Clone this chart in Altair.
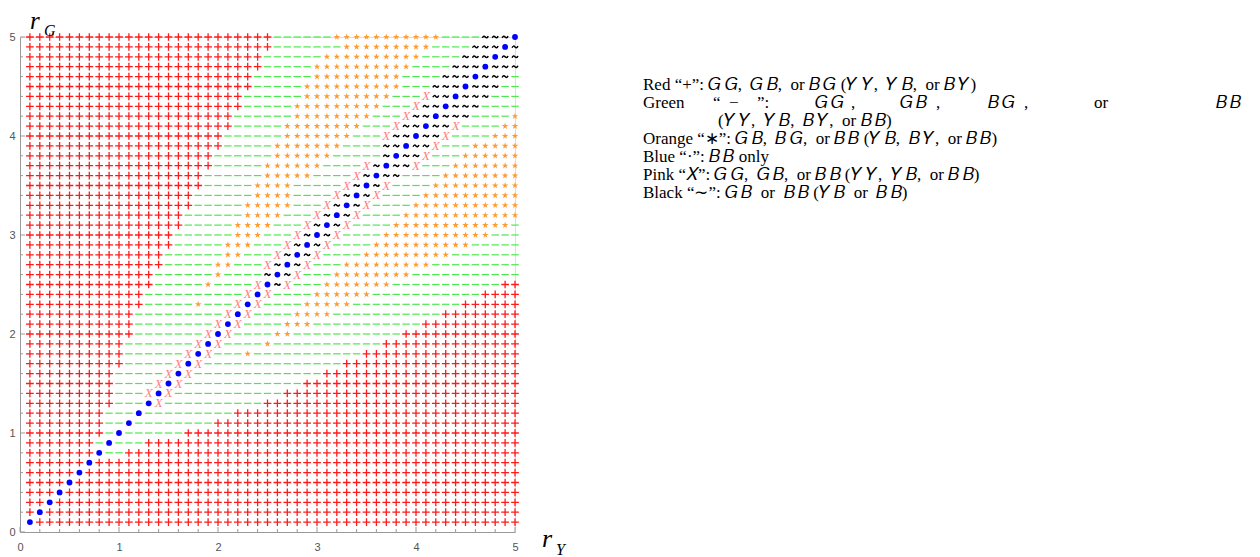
import altair as alt
import pandas as pd

# Each row: run-length codes, left (r_Y=0.1) to right (r_Y=5.0); rows from r_G=5.0 down to 0.1
# + red plus, - green dash, * orange star, o blue dot, x pink X, ~ black tilde
ROWS = [
    "+25 -6 *11 -4 ~3 o1",
    "+25 -7 *9 -4 ~3 o1 ~1",
    "+24 -6 *10 -4 ~3 o1 ~2",
    "+24 -5 *10 -4 ~3 o1 ~3",
    "+23 -6 *9 -4 ~3 o1 ~3 -1",
    "+23 -5 *10 -3 ~3 o1 ~3 -2",
    "+22 -6 *9 -3 x1 ~2 o1 ~3 -3",
    "+22 -5 *9 -3 x1 ~2 o1 ~3 -4",
    "+21 -6 *8 -3 x1 ~2 o1 ~3 -4 *1",
    "+21 -5 *8 -3 x1 ~2 o1 ~2 x1 -4 *2",
    "+20 -6 *7 -3 x1 ~2 o1 ~2 x1 -4 *3",
    "+20 -5 *7 -4 ~2 o1 ~2 x1 -3 *5",
    "+19 -6 *6 -5 ~1 o1 ~2 x1 -3 *6",
    "+19 -5 *6 -4 x1 ~1 o1 ~2 x1 -3 *7",
    "+18 -6 *5 -4 x1 ~1 o1 ~2 -4 *8",
    "+18 -5 *4 -5 x1 ~1 o1 ~1 x1 -4 *9",
    "+17 -6 *4 -4 x1 ~1 o1 ~1 x1 -4 *10",
    "+17 -5 *5 -3 x1 ~1 o1 ~1 x1 -4 *11",
    "+16 -6 *4 -3 x1 ~1 o1 ~1 x1 -4 *12",
    "+16 -5 *4 -3 x1 ~1 o1 ~1 x1 -4 *12 -1",
    "+15 -6 *3 -3 x1 ~1 o1 ~1 x1 -4 *11 -3",
    "+15 -5 *3 -3 x1 ~1 o1 ~1 x1 -4 *10 -5",
    "+14 -6 *2 -3 x1 ~1 o1 ~1 x1 -4 *9 -7",
    "+14 -5 *2 -3 x1 ~1 o1 ~1 x1 -3 *9 -9",
    "+13 -6 *1 -4 ~1 o1 ~1 x1 -3 *8 -11",
    "+13 -5 *1 -4 x1 o1 ~1 x1 -3 *7 -11 +2",
    "+12 -10 x1 o1 x1 -4 *6 -11 +4",
    "+12 -5 *1 -3 x1 o1 x1 -4 *5 -11 +6",
    "+11 -9 x1 o1 x1 -4 *4 -11 +8",
    "+11 -8 x1 o1 x1 -4 *3 -11 +10",
    "+11 -7 x1 o1 x1 -4 *2 -11 +12",
    "+10 -7 x1 o1 x1 -4 *1 -11 +14",
    "+10 -6 x1 o1 x1 -3 *1 -11 +16",
    "+10 -5 x1 o1 x1 -14 +18",
    "+9 -5 x1 o1 x1 -13 +20",
    "+9 -4 x1 o1 x1 -12 +22",
    "+9 -3 x1 o1 x1 -11 +24",
    "+9 -3 o1 x1 -10 +26",
    "+8 -3 o1 -9 +29",
    "+8 -2 o1 -8 +31",
    "+8 -1 o1 -6 +34",
    "+7 -1 o1 -3 +38",
    "+7 o1 -2 +40",
    "+6 o1 +43",
    "+5 o1 +44",
    "+4 o1 +45",
    "+3 o1 +46",
    "+2 o1 +47",
    "+1 o1 +48",
    "o1 +49",
]

AXIS_LABELS = [0, 1, 2, 3, 4, 5]
MINOR_TICKS = [0.2, 0.4, 0.6, 0.8, 1.2, 1.4, 1.6, 1.8, 2.2, 2.4, 2.6, 2.8,
               3.2, 3.4, 3.6, 3.8, 4.2, 4.4, 4.6, 4.8]

LEGEND_LINES = [
    "Red “+”: 𝐺𝐺, 𝐺𝐵, or 𝐵𝐺 (𝑌𝑌, 𝑌𝐵, or 𝐵𝑌)",
    None,
    "(𝑌𝑌, 𝑌𝐵, 𝐵𝑌, or 𝐵𝐵)",
    "Orange “∗”: 𝐺𝐵, 𝐵𝐺, or 𝐵𝐵 (𝑌𝐵, 𝐵𝑌, or 𝐵𝐵)",
    "Blue “·”: 𝐵𝐵 only",
    "Pink “𝑋”: 𝐺𝐺, 𝐺𝐵, or 𝐵𝐵 (𝑌𝑌, 𝑌𝐵, or 𝐵𝐵)",
    "Black “∼”: 𝐺𝐵 or 𝐵𝐵 (𝑌𝐵 or 𝐵𝐵)",
]
GREEN_PIECES = ["Green", "“", "−", "”:", "𝐺𝐺", ",", "𝐺𝐵", ",", "𝐵𝐺", ",", "or", "𝐵𝐵"]

# ---------- build table ----------
recs = []
for k, spec in enumerate(ROWS):
    j = 50 - k
    i = 1
    for tok in spec.split():
        s, n = tok[0], int(tok[1:])
        for _ in range(n):
            if i <= 50:
                recs.append({"rY": i / 10, "rG": j / 10, "s": s})
            i += 1
df = pd.DataFrame(recs)

W = H = 495
OX, OY = 20, 37  # page position of the plot origin

xs = alt.Scale(domain=[0, 5], nice=False, zero=False)
ys = alt.Scale(domain=[0, 5], nice=False, zero=False)
xaxis = alt.Axis(values=AXIS_LABELS, format="d", title=None, grid=False, ticks=False,
                 tickSize=0, labelPadding=9, labelFontSize=11, labelColor="#555555",
                 labelFont="Liberation Sans", domainColor="#999999", labelFlush=False)
yaxis = alt.Axis(values=AXIS_LABELS, format="d", title=None, grid=False, ticks=False,
                 tickSize=0, labelPadding=5, labelFontSize=11, labelColor="#555555",
                 labelFont="Liberation Sans", domainColor="#999999", labelFlush=False)


def enc_xy(xf="rY:Q", yf="rG:Q"):
    return dict(x=alt.X(xf, scale=xs, axis=xaxis), y=alt.Y(yf, scale=ys, axis=yaxis))


base = alt.Chart(df)
STAR = ("M0,-1L0.225,-0.309L0.951,-0.309L0.363,0.118L0.588,0.809L0,0.382"
        "L-0.588,0.809L-0.363,0.118L-0.951,-0.309L-0.225,-0.309Z")
TILDE = "M-1,0.3C-0.7,-0.4 -0.35,-0.4 0,0C0.35,0.4 0.7,0.4 1,-0.3"

plus = base.transform_filter(alt.datum.s == "+").mark_point(
    shape="M-1,0H1M0,-1V1", filled=False, strokeWidth=1.3, size=60,
    color="#ff1a1a", opacity=1).encode(**enc_xy())
dash = base.transform_filter(alt.datum.s == "-").mark_point(
    shape="M-1,0H1", filled=False, strokeWidth=1.2, size=55,
    color="#4de84d", opacity=1).encode(**enc_xy())
star = base.transform_filter(alt.datum.s == "*").mark_point(
    shape=STAR, filled=True, size=48, color="#ff9a2e", opacity=1, strokeWidth=0).encode(**enc_xy())
dot = base.transform_filter(alt.datum.s == "o").mark_circle(
    size=34, color="#0000ff", opacity=1).encode(**enc_xy())
xmark = base.transform_filter(alt.datum.s == "x").mark_text(
    text="X", font="Liberation Serif", fontStyle="italic", fontSize=13,
    color="#ff8080", baseline="middle", align="center").encode(**enc_xy())
tilde = base.transform_filter(alt.datum.s == "~").mark_point(
    shape=TILDE, filled=False, strokeWidth=1.5, size=34, color="#000000",
    opacity=1).encode(**enc_xy())

major_df = pd.DataFrame({"v": AXIS_LABELS})
minor_df = pd.DataFrame({"v": MINOR_TICKS})
tick_layers = []
for d, ln in ((major_df, 5), (minor_df, 3)):
    tick_layers.append(alt.Chart(d).mark_rule(color="#999999").encode(
        x=alt.X("v:Q", scale=xs, axis=xaxis), y=alt.value(H), y2=alt.value(H - ln)))
    tick_layers.append(alt.Chart(d).mark_rule(color="#999999").encode(
        y=alt.Y("v:Q", scale=ys, axis=yaxis), x=alt.value(0), x2=alt.value(ln)))

ONE = pd.DataFrame({"a": [0]})
MATH = set("𝐺𝐵𝑌𝑋")


def mathfmt(s):
    # typeset spacing: thin space between product letters, wider space after commas
    out = []
    for a, b in zip(s, s[1:] + " "):
        out.append(a)
        if a in MATH and b in MATH:
            out.append("\u2009")
    return "".join(out).replace(", ", ",\u2002").replace(" or ", "\u2002or\u2002")


def txt(s, px, py, size=17, style="normal", font="Liberation Serif", color="#000000"):
    return alt.Chart(ONE).mark_text(
        text=s, align="left", baseline="middle", fontSize=size, fontStyle=style,
        font=font, color=color).encode(x=alt.value(px - OX), y=alt.value(py - OY))


texts = []
line_y = [85, 103, 121, 139, 157, 175, 193]
for k, line in enumerate(LEGEND_LINES):
    if line is None:
        continue
    px = 718 if k == 2 else 643
    texts.append(txt(mathfmt(line), px, line_y[k]))
green_x = [643, 713, 729, 757, 815, 851, 900, 936, 988, 1024, 1094, 1216]
for s, px in zip(GREEN_PIECES, green_x):
    texts.append(txt(mathfmt(s), px, line_y[1]))

# axis titles
texts.append(txt("r", 30, 21, size=25, style="italic"))
texts.append(txt("G", 44, 31, size=16, style="italic"))
texts.append(txt("r", 542, 539, size=26, style="italic"))
texts.append(txt("Y", 556, 550, size=16, style="italic"))

chart = alt.layer(*tick_layers, dash, plus, star, tilde, xmark, dot, *texts).properties(
    width=W, height=H,
    autosize=alt.AutoSizeParams(type="none"),
    padding={"left": 12, "top": 29, "right": 735, "bottom": 26},
).configure_view(stroke=None).configure(background="white")

chart.save("out.html", embed_options={"renderer": "svg", "actions": False})
